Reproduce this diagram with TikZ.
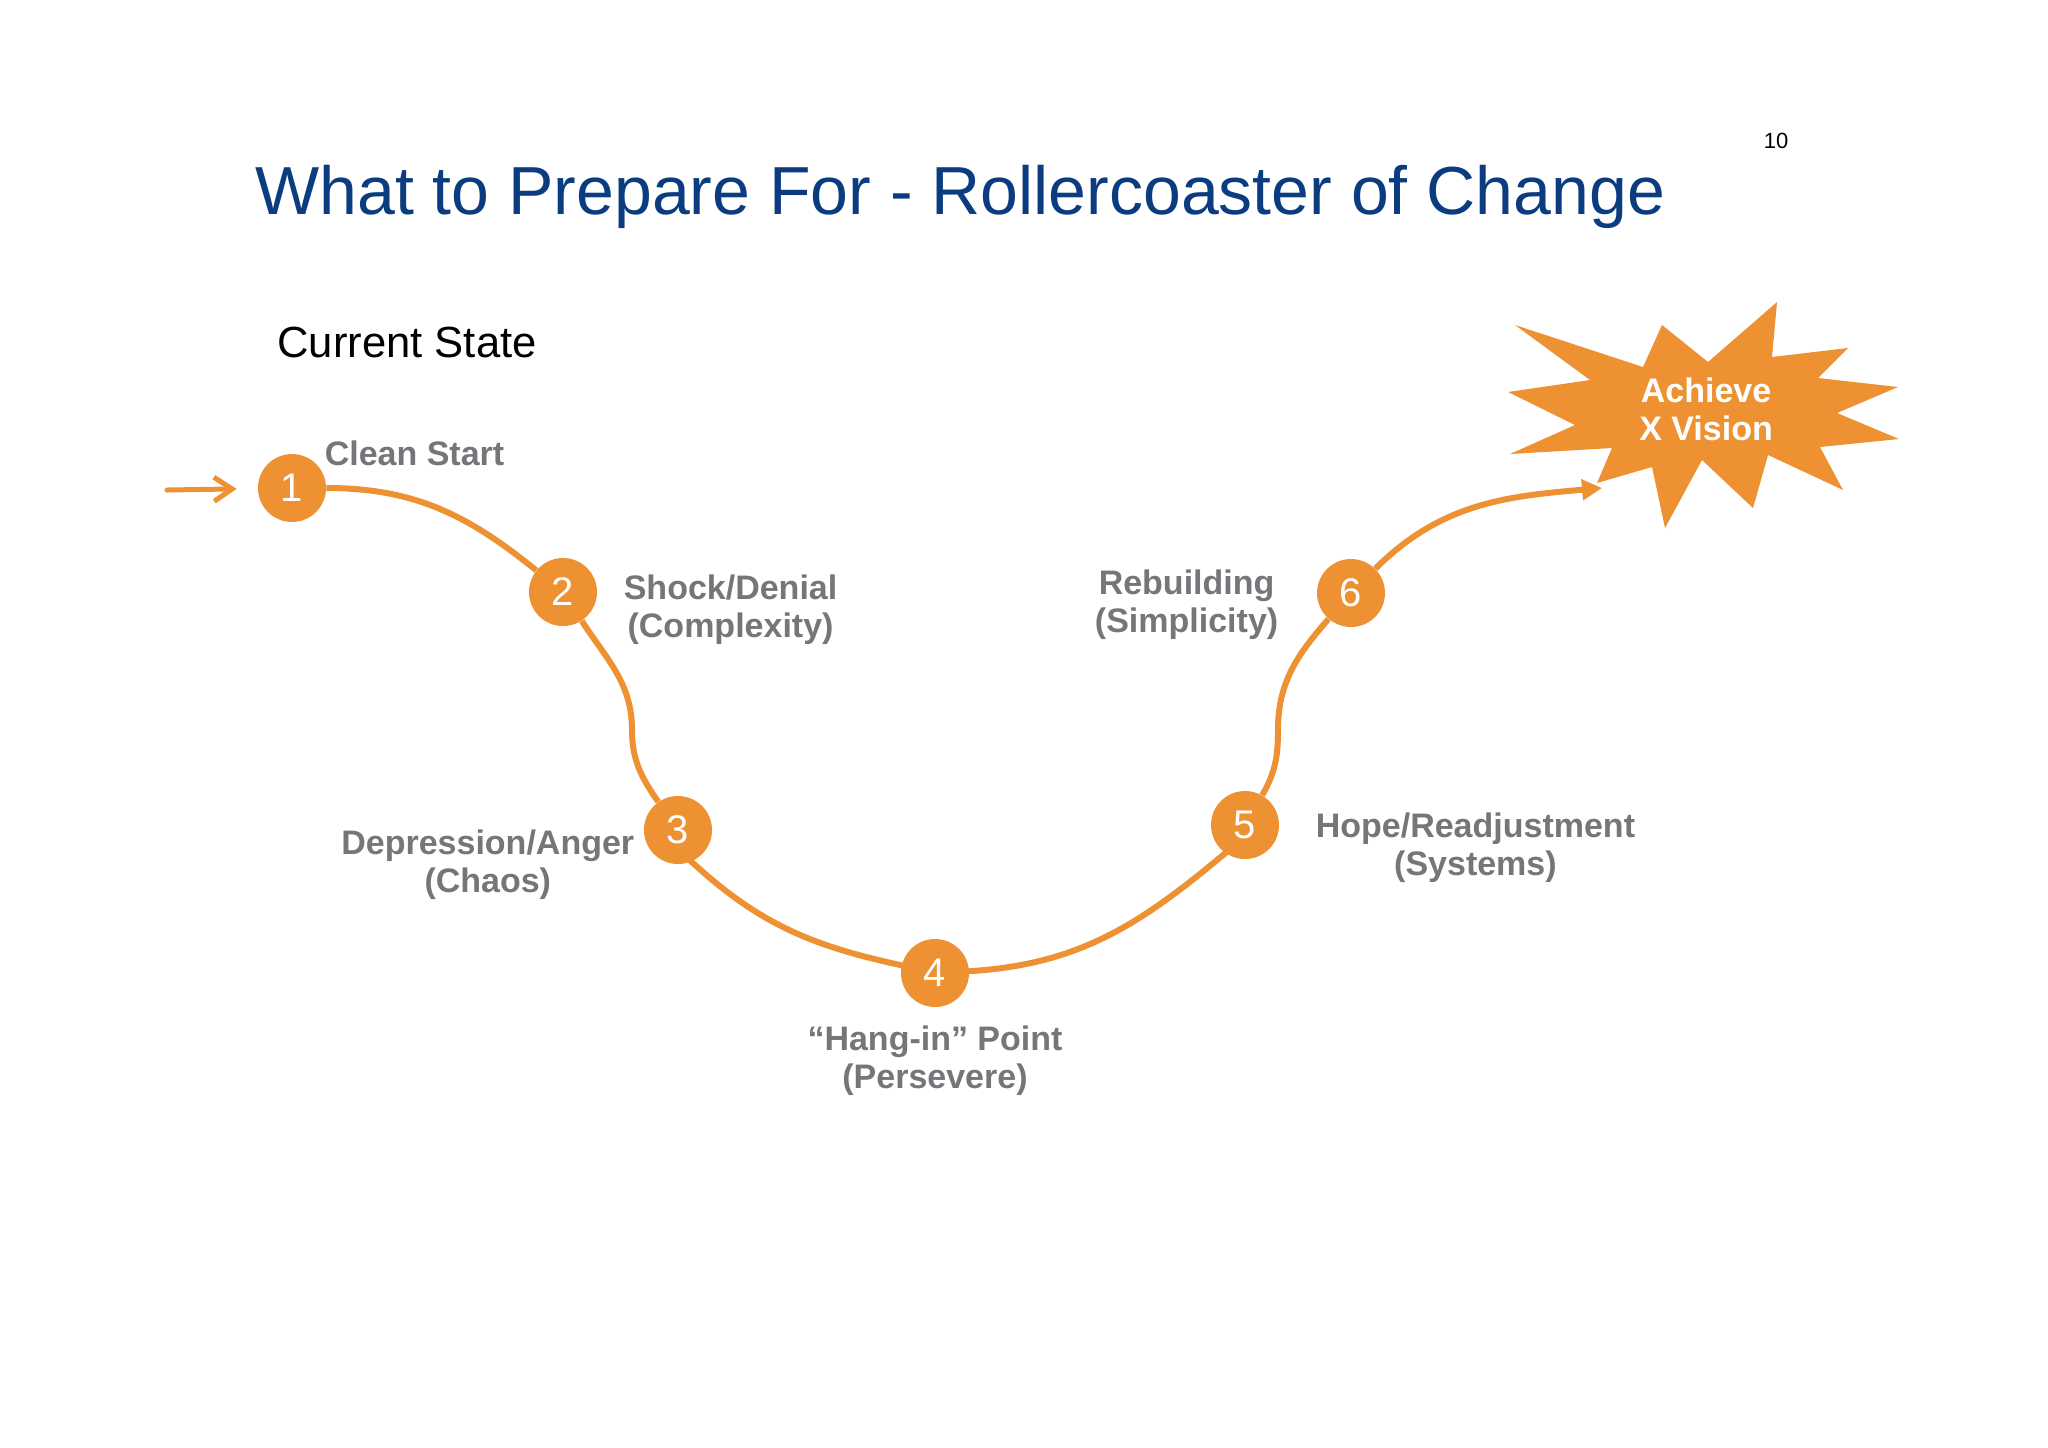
\documentclass[tikz,border=0pt]{standalone}
\usepackage{fontspec}
\setmainfont{Liberation Sans}
\definecolor{rcorange}{RGB}{237,145,50}
\definecolor{rcgray}{RGB}{118,118,122}
\definecolor{rcblue}{RGB}{12,60,128}
\usetikzlibrary{positioning, arrows.meta}
\tikzset{
>={Triangle[length=10pt,width=10pt]}, % filled head at the end of the ride
node distance=1cm, % labels sit close to their stops
stage/.style={circle, fill=rcorange, text=white, minimum size=34pt, inner sep=0pt, font=\fontsize{20}{20}\selectfont}, % numbered stops on the track
stagelabel/.style={text=rcgray, font=\bfseries\fontsize{17}{19}\selectfont, align=center, inner sep=0pt}, % grey text next to a stop
track/.style={draw=rcorange, line width=3pt}, % the rollercoaster itself
}

\begin{document}
\begin{tikzpicture}[x=0.5pt, y=-0.5pt]
  \useasboundingbox[fill=white] (0,0) rectangle (2048,1447);

  \node[anchor=base west, inner sep=0pt, text=rcblue, font=\fontsize{34}{34}\selectfont] (title) at (255,214) {What to Prepare For - Rollercoaster of Change};
  \node[anchor=base, inner sep=0pt, font=\fontsize{11}{11}\selectfont] (page) at (1776,148) {10};
  \node[anchor=base west, inner sep=0pt, font=\fontsize{21.8}{22}\selectfont] (current) at (277,357) {Current State};

  % the stops
  \node[stage] (s1) at (292,488) {1};
  \node[stage] (s2) at (563,592) {2};
  \node[stage] (s3) at (678,830) {3};
  \node[stage] (s4) at (935,973) {4};
  \node[stage] (s5) at (1245,825) {5};
  \node[stage] (s6) at (1351,593) {6};
  \coordinate (dip1) at (632,730);
  \coordinate (dip2) at (1278,730);

  \node[stagelabel, anchor=west, right=-1pt of s1, yshift=17.5pt] (l1) {Clean Start};
  \node[stagelabel, right=13pt of s2, yshift=-9pt] (l2) {Shock/Denial\\(Complexity)};
  \node[stagelabel, left=4.5pt of s3, yshift=-17.5pt] (l3) {Depression/Anger\\(Chaos)};
  \node[stagelabel, below=9pt of s4] (l4) {``Hang-in'' Point\\(Persevere)};
  \node[stagelabel, right=18pt of s5, yshift=-11.5pt] (l5) {Hope/Readjustment\\(Systems)};
  \node[stagelabel, left=19pt of s6, yshift=-6pt] (l6) {Rebuilding\\(Simplicity)};

  % the goal
  \fill[rcorange] (1515,325) -- (1643,367) -- (1662,325) -- (1708,362) -- (1777,302) -- (1772,357)
    -- (1848,348) -- (1818,378) -- (1898,387) -- (1837,413) -- (1899,439) -- (1820,447)
    -- (1843,490) -- (1768,455) -- (1753,508) -- (1702,460) -- (1665,528) -- (1652,467)
    -- (1597,483) -- (1612,448) -- (1510,454) -- (1575,425) -- (1508,392) -- (1590,380) -- cycle;
  \node[stagelabel, text=white] (vision) at (1706,409) {Achieve\\X Vision};
  \coordinate (visiontip) at (1602,488);
  \coordinate (entry) at (167,490);

  \draw[rcorange, line width=2.5pt, line cap=round, shorten >=10.5pt, -{Straight Barb[length=9pt,width=12pt]}] (entry) -- (s1);
  \draw[track] (s1) to[out=0, in=141] (s2)
    to[out=-57, in=90] (dip1) to[out=-90, in=125] (s3);
  \draw[track, shorten <=-2pt, shorten >=-2pt] (s3.-67) to[out=-43, in=168] (s4.167);
  \draw[track, shorten <=-2pt, shorten >=-2pt] (s4.3) to[out=3, in=-140] (s5.-125);
  \draw[track] (s5) to[out=60, in=-90] (dip2) to[out=90, in=-131] (s6);
  \draw[track, ->] (s6) to[out=45, in=185] (visiontip);
\end{tikzpicture}
\end{document}
